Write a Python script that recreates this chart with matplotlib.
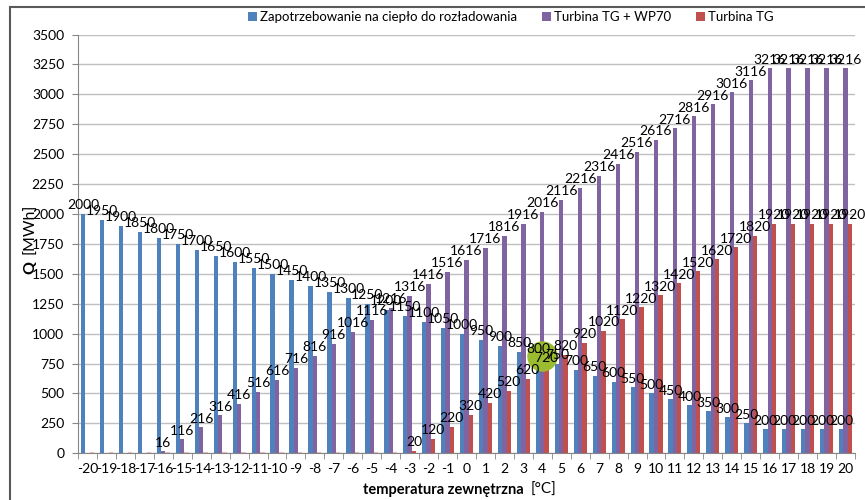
import numpy as np
import matplotlib
matplotlib.use("Agg")
from matplotlib import pyplot as plt
from matplotlib.patches import Rectangle

plt.rcParams['font.family'] = ['Lato', 'DejaVu Sans']

temps = list(range(-20, 21))
zapotrzebowanie = [2000, 1950, 1900, 1850, 1800, 1750, 1700, 1650, 1600, 1550, 1500,
                   1450, 1400, 1350, 1300, 1250, 1200, 1150, 1100, 1050, 1000,
                   950, 900, 850, 800, 750, 700, 650, 600, 550, 500,
                   450, 400, 350, 300, 250, 200, 200, 200, 200, 200]
tg_wp70 = [0, 0, 0, 0, 16, 116, 216, 316, 416, 516, 616,
           716, 816, 916, 1016, 1116, 1216, 1316, 1416, 1516, 1616,
           1716, 1816, 1916, 2016, 2116, 2216, 2316, 2416, 2516, 2616,
           2716, 2816, 2916, 3016, 3116, 3216, 3216, 3216, 3216, 3216]
tg = [0, 0, 0, 0, 0, 0, 0, 0, 0, 0, 0,
      0, 0, 0, 0, 0, 0, 20, 120, 220, 320,
      420, 520, 620, 720, 820, 920, 1020, 1120, 1220, 1320,
      1420, 1520, 1620, 1720, 1820, 1920, 1920, 1920, 1920, 1920]
labels = ["Zapotrzebowanie na ciepło do rozładowania", "Turbina TG + WP70", "Turbina TG"]
colors = ["#4F81BD", "#8064A2", "#C0504D"]
highlight = (4, 810)  # green marker: temp, Q

fig = plt.figure(figsize=(8.65, 5), dpi=100)
ax = fig.add_axes([0.0902, 0.0934, 0.8982, 0.8376])

x = np.arange(len(temps))
w = 0.23
series = [zapotrzebowanie, tg_wp70, tg]
for k, (vals, col, lab) in enumerate(zip(series, colors, labels)):
    pos = x + (k - 1) * w
    vals = np.array(vals)
    ax.bar(pos, vals, width=w, color=col, label=lab, zorder=2, linewidth=0)
    for px, v in zip(pos, vals):
        if v > 0:
            ax.annotate(str(v), (px, v), xytext=(0, 2), textcoords="offset points",
                        ha="center", va="bottom", fontsize=10, zorder=5)

# zero-height red bars show as thin pink dashes
pos = x + w
zero = np.array(tg) == 0
ax.hlines(np.zeros(zero.sum()), pos[zero] - w / 2, pos[zero] + w / 2,
          color="#E6B9B8", lw=1.5, zorder=3)

ax.scatter([temps.index(highlight[0])], [highlight[1]], s=480, color="#9BBB31",
           zorder=4, linewidths=0)

ax.set_xlim(-0.5, len(temps) - 0.5)
ax.set_ylim(0, 3500)
ax.set_yticks(np.arange(0, 3501, 250))
ax.set_xticks(x)
ax.set_xticklabels([str(t) for t in temps])
ax.set_xticks(np.arange(-0.5, len(temps), 1), minor=True)
ax.tick_params(axis="x", which="major", length=0, pad=7, labelsize=10)
ax.tick_params(axis="x", which="minor", length=4, color="#868686")
ax.tick_params(axis="y", length=4, color="#868686", labelsize=10, pad=6)
ax.yaxis.grid(True, color="#BFBFBF", lw=1, zorder=0)
ax.set_axisbelow(True)
for s in ["top", "right"]:
    ax.spines[s].set_visible(False)
for s in ["left", "bottom"]:
    ax.spines[s].set_color("#868686")

# x axis title: bold part + normal unit
fig.text(0.605, 0.02, "temperatura zewnętrzna", ha="right", va="center",
         fontsize=10.5, fontweight="bold")
fig.text(0.614, 0.02, "[°C]", ha="left", va="center", fontsize=11)

# y axis title: bold Q + normal unit
fig.text(0.035, 0.466, "Q", rotation=90, ha="center", va="center", fontsize=11.5,
         fontweight="bold")
fig.text(0.035, 0.542, "[MWh]", rotation=90, ha="center", va="center", fontsize=11.5)

fig.legend(loc="center", bbox_to_anchor=(511 / 865, 0.966), bbox_transform=fig.transFigure,
           ncol=3, frameon=False, fontsize=9.5, handlelength=0.65, handleheight=0.65,
           handletextpad=0.25, columnspacing=1.9)

fig.add_artist(Rectangle((10 / 865, -0.1), 2, (1 - 7 / 500) + 0.1, transform=fig.transFigure,
                         fill=False, edgecolor="#595959", lw=1.5))

fig.savefig("out.png", dpi=100)
